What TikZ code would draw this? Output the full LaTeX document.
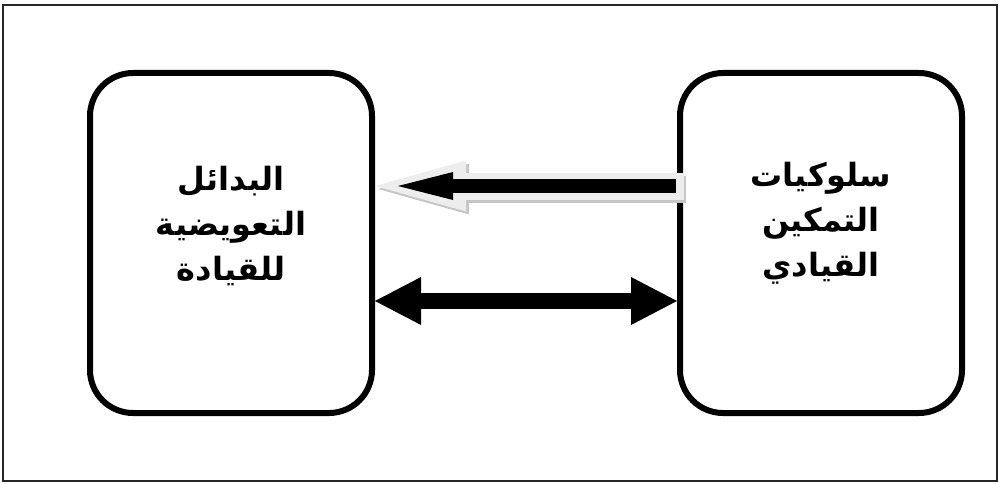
\documentclass[tikz,border=0pt]{standalone}
\usepackage{fontspec}
\usetikzlibrary{arrows.meta}
\newfontfamily\arabicfont[Script=Arabic]{DejaVu Sans}
\TeXXeTstate=1

\tikzset{
    boxrnd/.style={draw, line width=6pt, rounded corners=43pt, minimum width=282pt, minimum height=340pt},
    boxtxt/.style={align=center, font=\arabicfont\bfseries\fontsize{32}{45}\selectfont},
}

\begin{document}
\begin{tikzpicture}[x=1pt,y=1pt]
            \useasboundingbox (0,0) rectangle (999,483);

            %frame
            \draw[line width=1.6pt, black!85] (3,2) rectangle (997,478);

            %boxes
            \node[boxrnd] (bdl) at (231,240) {};
    
            \node[boxrnd] (sulk) at (821,240) {};

            \node[boxtxt] (bdltxt) at ([yshift=17pt]bdl.center) {\beginR البدائل\endR\\ \beginR التعويضية\endR\\ \beginR للقيادة\endR};
    
            \node[boxtxt] (sulktxt) at ([yshift=20pt]sulk.center) {\beginR سلوكيات\endR\\ \beginR التمكين\endR\\ \beginR القيادي\endR};

            %arrows
            \coordinate (up1) at ([yshift=57pt]sulk.west);

            \coordinate (up2) at ([yshift=57pt]bdl.east);
    
            \draw[line width=27pt, gray!45, -{Triangle[length=91pt,width=51pt,line width=0pt]}] ([xshift=9pt,yshift=-3pt]up1) -- ([xshift=3pt,yshift=-3pt]up2);

            \draw[line width=27pt, black!7, -{Triangle[length=91pt,width=51pt,line width=0pt]}] ([xshift=7pt]up1) -- (up2);
    
            \draw[line width=14pt, -{Triangle[length=55pt,width=28pt,line width=0pt]}] ([xshift=-1pt]up1) -- ([xshift=23pt]up2);

            \draw[line width=16pt, {Triangle[length=46pt,width=48pt,line width=0pt]}-{Triangle[length=46pt,width=48pt,line width=0pt]}] ([yshift=-58pt]bdl.east) -- ([yshift=-58pt]sulk.west);
        \end{tikzpicture}
\end{document}
